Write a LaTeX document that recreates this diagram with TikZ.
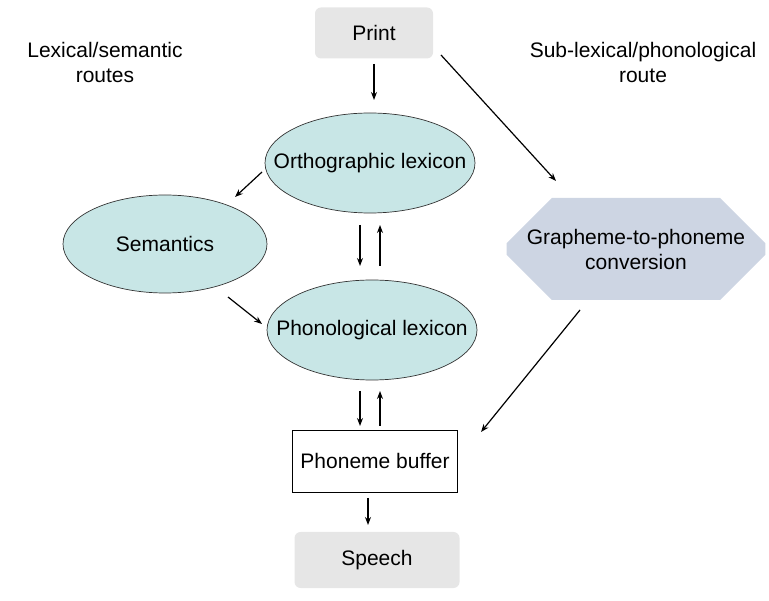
\documentclass[tikz,border=0pt]{standalone}
\usepackage{fontspec}
\setmainfont{Liberation Sans}
\usetikzlibrary{shapes.geometric,shapes.misc,arrows.meta}
\definecolor{lgray}{HTML}{E6E6E6}
\definecolor{teal0}{HTML}{C8E6E6}
\definecolor{lav}{HTML}{CDD5E3}
\begin{document}
\begin{tikzpicture}[x=1pt,y=-1pt,
  every node/.style={font=\fontsize{21}{25}\selectfont, align=center},
  gbox/.style={fill=lgray, rounded corners=6pt, minimum width=118pt, minimum height=51pt},
  ellbg/.style={draw=black!80, fill=teal0, line width=0.7pt},
  arr/.style={-{Stealth[length=8pt,width=6pt]}, line width=1.2pt}]
\useasboundingbox (0,0) rectangle (769,601);
\node[gbox] (print) at (374,33) {Print};
\node[gbox, minimum width=165pt, minimum height=56pt] (speech) at (377,560) {Speech};
\draw[ellbg] (370,163) ellipse [x radius=105, y radius=50];
\node (orth) at (370,163) {Orthographic lexicon};
\draw[ellbg] (165,244) ellipse [x radius=102, y radius=49];
\node (sem) at (165,244) {Semantics};
\draw[ellbg] (372,330) ellipse [x radius=105, y radius=50];
\node (phon) at (372,330) {Phonological lexicon};
\node[chamfered rectangle, chamfered rectangle xsep=25pt, chamfered rectangle ysep=25pt, fill=lav, minimum width=228pt, minimum height=102pt, inner sep=0pt] (gpc) at (636,249) {Grapheme-to-phoneme\\conversion};
\node[draw=black, fill=white, line width=0.8pt, minimum width=165pt, minimum height=62pt] (buf) at (375,461) {Phoneme buffer};
\node (lsr) at (105,62) {Lexical/semantic\\routes};
\node (slr) at (643,62) {Sub-lexical/phonological\\route};

\coordinate (p1) at (374,64); \coordinate (p2) at (374,100);
\draw[arr] (p1) -- (p2);
\coordinate (q1) at (441,55); \coordinate (q2) at (556,181);
\draw[arr] (q1) -- (q2);
\coordinate (r1) at (580,310); \coordinate (r2) at (481,432);
\draw[arr] (r1) -- (r2);
\coordinate (a1) at (262,172); \coordinate (a2) at (235,197);
\draw[arr] (a1) -- (a2);
\coordinate (b1) at (228,297); \coordinate (b2) at (262,324);
\draw[arr] (b1) -- (b2);
\coordinate (c1) at (360,225); \coordinate (c2) at (360,266);
\coordinate (d1) at (380,266); \coordinate (d2) at (380,225);
\draw[arr] (c1) -- (c2); \draw[arr] (d1) -- (d2);
\coordinate (e1) at (360,391); \coordinate (e2) at (360,426);
\coordinate (f1) at (380,426); \coordinate (f2) at (380,391);
\draw[arr] (e1) -- (e2); \draw[arr] (f1) -- (f2);
\coordinate (g1) at (368,498); \coordinate (g2) at (368,525);
\draw[arr] (g1) -- (g2);
\end{tikzpicture}
\end{document}
